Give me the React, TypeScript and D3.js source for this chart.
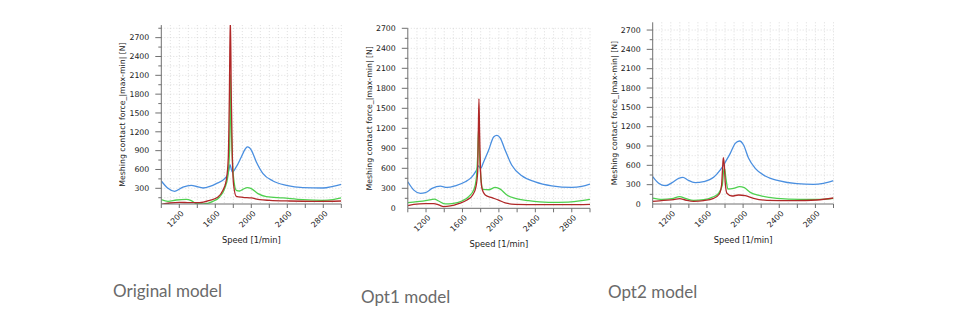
import React from "react";
import * as d3 from "d3";

// ---------- data ----------
const captions = ["Original model", "Opt1 model", "Opt2 model"];
const xTitle = "Speed [1/min]";
const yTitle = "Meshing contact force_|max-min| [N]";
const xTickLabels = [1200, 1600, 2000, 2400, 2800];

// Original model
const origBlue: [number, number][] = [[1000,417],[1074,300],[1148,252],[1240,320],[1333,348],[1400,325],[1463,305],[1540,330],[1611,375],[1704,455],[1741,534],[1755,620],[1763,678],[1772,640],[1789,560],[1833,640],[1889,800],[1930,920],[1956,960],[1980,945],[2000,907],[2056,720],[2130,534],[2241,417],[2389,348],[2574,311],[2796,305],[2907,332],[3000,364]];
const origGreen: [number, number][] = [[1000,119],[1074,93],[1167,114],[1278,124],[1333,103],[1389,55],[1463,50],[1574,93],[1648,162],[1704,295],[1741,507],[1759,933],[1767,2114],[1774,1465],[1789,773],[1804,454],[1833,268],[1870,257],[1907,284],[1956,311],[2000,295],[2074,215],[2167,167],[2352,146],[2574,119],[2796,108],[2907,119],[3000,146]];
const origRed: [number, number][] = [[1000,45],[1093,66],[1204,77],[1315,71],[1426,71],[1537,108],[1630,162],[1685,268],[1722,428],[1744,773],[1756,1731],[1767,3050],[1778,1731],[1789,827],[1804,348],[1833,172],[1907,156],[2000,146],[2093,119],[2204,108],[2426,98],[2722,93],[3000,98]];

// Opt1 model
const opt1Blue: [number, number][] = [[1000,398],[1066,273],[1139,224],[1193,234],[1266,298],[1358,333],[1431,313],[1522,338],[1631,398],[1704,472],[1748,557],[1777,636],[1799,597],[1832,696],[1887,870],[1942,1069],[1978,1094],[2015,1054],[2069,870],[2142,646],[2252,487],[2398,398],[2580,338],[2800,313],[2909,328],[3000,363]];
const opt1Green: [number, number][] = [[1000,85],[1102,99],[1212,119],[1292,139],[1339,109],[1412,65],[1485,70],[1595,109],[1668,174],[1723,273],[1752,447],[1767,796],[1777,1193],[1788,796],[1803,447],[1825,283],[1887,278],[1960,313],[2015,288],[2088,199],[2179,149],[2325,114],[2544,89],[2763,94],[2909,114],[3000,134]];
const opt1Red: [number, number][] = [[1000,40],[1066,60],[1193,70],[1285,70],[1339,50],[1394,25],[1467,35],[1558,70],[1650,124],[1712,199],[1748,323],[1767,547],[1774,1144],[1781,1641],[1788,1144],[1799,547],[1814,298],[1850,199],[1923,159],[1996,124],[2069,80],[2179,60],[2434,55],[2763,55],[3000,60]];

// Opt2 model
const opt2Blue: [number, number][] = [[1000,424],[1066,321],[1140,284],[1214,331],[1287,398],[1335,414],[1387,372],[1471,331],[1563,347],[1674,414],[1748,528],[1784,605],[1806,657],[1858,786],[1913,941],[1961,978],[2005,915],[2061,709],[2134,553],[2245,434],[2392,362],[2595,315],[2779,305],[2889,321],[3000,362]];
const opt2Green: [number, number][] = [[1000,93],[1103,72],[1214,83],[1298,114],[1361,88],[1453,57],[1563,67],[1656,103],[1729,166],[1770,295],[1784,502],[1795,553],[1810,398],[1832,233],[1895,243],[1961,269],[2013,253],[2079,181],[2190,129],[2374,88],[2632,72],[2853,72],[3000,88]];
const opt2Red: [number, number][] = [[1000,41],[1122,57],[1232,67],[1298,83],[1361,62],[1453,41],[1563,52],[1674,88],[1737,155],[1762,295],[1773,553],[1781,719],[1792,605],[1803,321],[1821,166],[1877,124],[1950,140],[2024,129],[2116,88],[2263,57],[2558,52],[2816,62],[3000,93]];

const yLabels1 = [300, 600, 900, 1200, 1500, 1800, 2100, 2400, 2700];
const yLabels23 = [0, 300, 600, 900, 1200, 1500, 1800, 2100, 2400, 2700];

// ---------- layout ----------
const COLORS = { blue: "#4a8fe0", green: "#4fd04f", red: "#b02828" };

type Panel = {
  id: string;
  x0: number; x1: number;
  yDom: [number, number]; yRange: [number, number];
  yLabels: number[];
  series: { data: [number, number][]; color: string }[];
  caption: string; capX: number; capY: number;
};

const panels: Panel[] = [
  { id: "p1", x0: 161.3, x1: 341.3, yDom: [50, 2900], yRange: [204, 25.1], yLabels: yLabels1,
    series: [{ data: origBlue, color: COLORS.blue }, { data: origGreen, color: COLORS.green }, { data: origRed, color: COLORS.red }],
    caption: captions[0], capX: 113, capY: 297 },
  { id: "p2", x0: 407.8, x1: 590, yDom: [0, 2700], yRange: [208.3, 28.3], yLabels: yLabels23,
    series: [{ data: opt1Blue, color: COLORS.blue }, { data: opt1Green, color: COLORS.green }, { data: opt1Red, color: COLORS.red }],
    caption: captions[1], capX: 361, capY: 303 },
  { id: "p3", x0: 652.7, x1: 833.5, yDom: [0, 2820], yRange: [204, 22.3], yLabels: yLabels23,
    series: [{ data: opt2Blue, color: COLORS.blue }, { data: opt2Green, color: COLORS.green }, { data: opt2Red, color: COLORS.red }],
    caption: captions[2], capX: 608, capY: 298 },
];

const FONT = "'DejaVu Sans', Verdana, sans-serif";

function ChartPanel({ p }: { p: Panel }) {
  const x = d3.scaleLinear().domain([1000, 3000]).range([p.x0, p.x1]);
  const y = d3.scaleLinear().domain(p.yDom).range(p.yRange);
  const top = p.yRange[1];
  const bottom = p.yRange[0];
  const line = d3.line<[number, number]>().x(d => x(d[0])).y(d => y(d[1])).curve(d3.curveMonotoneX);

  const vGrid = d3.range(1100, 3001, 100);
  const hGrid: number[] = [];
  for (let v = 0; v <= 3000; v += 150) if (v > p.yDom[0] && v <= p.yDom[1]) hGrid.push(v);
  const xMinor = d3.range(1000, 3001, 200);
  const yMinor = hGrid;

  return (
    <g>
      <defs>
        <clipPath id={`clip-${p.id}`}>
          <rect x={p.x0} y={top} width={p.x1 - p.x0} height={bottom - top} />
        </clipPath>
      </defs>
      {vGrid.map(v => (
        <line key={"vg" + v} x1={x(v)} x2={x(v)} y1={top} y2={bottom} stroke="#d4d4d4" strokeWidth={0.8} strokeDasharray="1,2" />
      ))}
      {hGrid.map(v => (
        <line key={"hg" + v} x1={p.x0} x2={p.x1} y1={y(v)} y2={y(v)} stroke="#d4d4d4" strokeWidth={0.8} strokeDasharray="1,2" />
      ))}
      <g clipPath={`url(#clip-${p.id})`}>
        {p.series.map((s, i) => (
          <path key={i} d={line(s.data) || ""} fill="none" stroke={s.color} strokeWidth={1.3} />
        ))}
      </g>
      {/* axes */}
      <line x1={p.x0} x2={p.x0} y1={top} y2={bottom} stroke="#707070" strokeWidth={1} />
      <line x1={p.x0} x2={p.x1} y1={bottom} y2={bottom} stroke="#707070" strokeWidth={1} />
      {yMinor.map(v => (
        <line key={"ym" + v} x1={p.x0 - (v % 300 === 0 ? 6 : 3)} x2={p.x0} y1={y(v)} y2={y(v)} stroke="#707070" strokeWidth={1} />
      ))}
      {p.yLabels.map(v => (
        <text key={"yl" + v} x={p.x0 - 12} y={y(v)} dy="0.35em" textAnchor="end" fontSize={7.8} fontFamily={FONT} fill="#222">{v}</text>
      ))}
      {xMinor.map(v => (
        <line key={"xm" + v} x1={x(v)} x2={x(v)} y1={bottom} y2={bottom + 4} stroke="#707070" strokeWidth={1} />
      ))}
      {xTickLabels.map(v => (
        <text key={"xl" + v} transform={`translate(${x(v) + 3},${bottom + 8}) rotate(-45)`} dy="0.35em" textAnchor="end" fontSize={7.8} fontFamily={FONT} fill="#222">{v}</text>
      ))}
      <text x={(p.x0 + p.x1) / 2} y={bottom + 39} textAnchor="middle" fontSize={8.3} fontFamily={FONT} fill="#222">{xTitle}</text>
      <text transform={`translate(${p.x0 - 36},${(top + bottom) / 2}) rotate(-90)`} textAnchor="middle" fontSize={7.8} fontFamily={FONT} fill="#222">{yTitle}</text>
      <text x={p.capX} y={p.capY} fontSize={17} fontFamily="Lato, 'Noto Sans', sans-serif" fill="#6a6a6a">{p.caption}</text>
    </g>
  );
}

export default function App() {
  return (
    <svg width={955} height={329} style={{ position: "absolute", left: 0, top: 0, background: "#fff" }}>
      <rect width={955} height={329} fill="#fff" />
      {panels.map(p => <ChartPanel key={p.id} p={p} />)}
    </svg>
  );
}
